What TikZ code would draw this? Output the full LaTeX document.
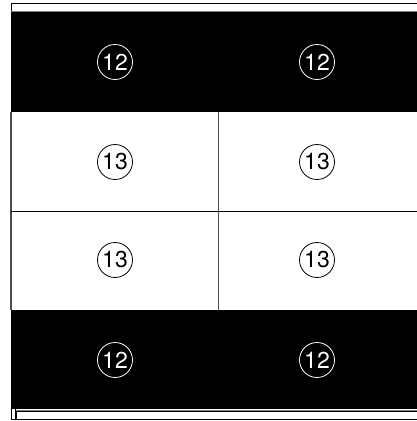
\documentclass[tikz,border=0pt]{standalone}
\usepackage{fontspec}
\setmainfont{TeX Gyre Heros}
\begin{document}
\begin{tikzpicture}[x=1pt, y=-1pt,
    tag/.style={circle, draw, thick, minimum size=35pt, inner sep=0pt, font=\fontsize{23}{23}\selectfont},
    tagdark/.style={tag, draw=white, text=white}]

    \useasboundingbox (0,0) rectangle (417,421);
    \clip (0,0) rectangle (417,421);

    % --- Felső sáv (top strip) ---
    \draw[thick] (11,3) rectangle (430,11);
    \fill[black] (11,12) rectangle (430,112);
    \draw[gray, thick] (11,11.5) -- (430,11.5);

    % --- Középső mezők ---
    \draw[gray!60!black, very thick] (11,112) -- (11,310);
    \draw[gray!60!black, thick] (218,112) -- (218,310);
    \draw[thick] (11,211) -- (430,211);

    % --- Alsó sáv ---
    \fill[black] (11,310) rectangle (430,409);
    \draw[thick] (11.5,406) rectangle (15,419.5);
    \draw[thick] (16,411) rectangle (430,419.5);
    \draw[gray, thick] (16,410) -- (430,410);

    % --- Jelölések ---
    \node[tagdark] (a1) at (115,62) {12};
    \node[tagdark] (a2) at (317,62) {12};
    \node[tag] (b1) at (115,162) {13};
    \node[tag] (b2) at (317,162) {13};
    \node[tag] (c1) at (115,260) {13};
    \node[tag] (c2) at (317,260) {13};
    \node[tagdark] (d1) at (115,360) {12};
    \node[tagdark] (d2) at (317,360) {12};

\end{tikzpicture}
\end{document}
